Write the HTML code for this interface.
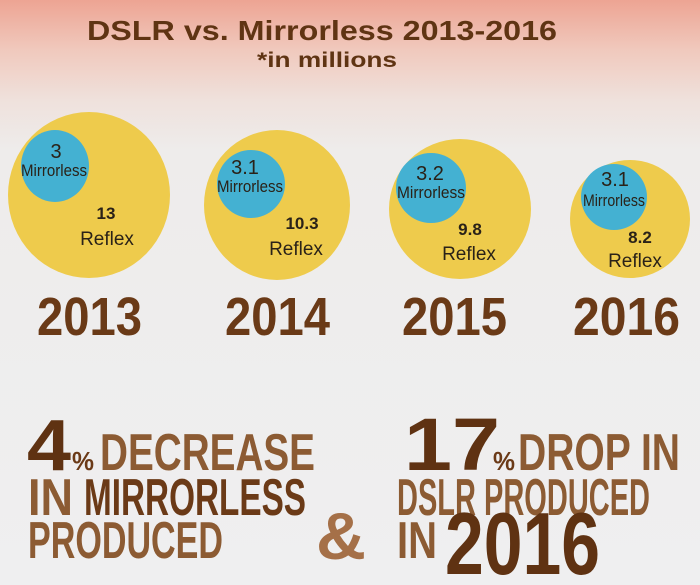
<!DOCTYPE html>
<html><head><meta charset="utf-8"><style>
html,body{margin:0;padding:0;width:700px;height:585px;overflow:hidden}
body{background:linear-gradient(#eda493 0px,#f0c9bd 50px,#efe1dc 100px,#eeeceb 150px,#efeff0 585px)}
svg{display:block}
text{font-family:"Liberation Sans",sans-serif}
</style></head><body>
<svg width="700" height="585" viewBox="0 0 700 585">
<g font-weight="bold" fill="#5f3413" text-anchor="middle">
<text x="322" y="40" font-size="28" textLength="470" lengthAdjust="spacingAndGlyphs">DSLR vs. Mirrorless 2013-2016</text>
<text x="327" y="67" font-size="21" textLength="140" lengthAdjust="spacingAndGlyphs">*in millions</text>
</g>
<g fill="#eecb4c">
<ellipse cx="89" cy="195" rx="81" ry="83"/>
<ellipse cx="277" cy="205" rx="73" ry="75"/>
<ellipse cx="460" cy="209" rx="71" ry="70"/>
<ellipse cx="630" cy="219" rx="60" ry="59"/>
</g>
<g fill="#44b1d2">
<ellipse cx="55" cy="166" rx="34" ry="36"/>
<circle cx="251" cy="184" r="34"/>
<circle cx="431" cy="188" r="35"/>
<circle cx="614" cy="197" r="33"/>
</g>
<g fill="#2a2218" text-anchor="middle" font-size="17">
<text x="56" y="158" font-size="20">3</text>
<text x="54" y="176" textLength="66" lengthAdjust="spacingAndGlyphs">Mirrorless</text>
<text x="106" y="219" font-weight="bold">13</text>
<text x="107" y="245" font-size="19">Reflex</text>
<text x="245" y="174" font-size="20">3.1</text>
<text x="250" y="192" textLength="66" lengthAdjust="spacingAndGlyphs">Mirrorless</text>
<text x="302" y="229" font-weight="bold">10.3</text>
<text x="296" y="255" font-size="19">Reflex</text>
<text x="430" y="180" font-size="20">3.2</text>
<text x="431" y="198" textLength="68" lengthAdjust="spacingAndGlyphs">Mirrorless</text>
<text x="470" y="235" font-weight="bold">9.8</text>
<text x="469" y="260" font-size="19">Reflex</text>
<text x="615" y="186" font-size="20">3.1</text>
<text x="614" y="206" textLength="62" lengthAdjust="spacingAndGlyphs">Mirrorless</text>
<text x="640" y="243" font-weight="bold">8.2</text>
<text x="635" y="267" font-size="19">Reflex</text>
</g>
<g fill="#6a3a17" font-size="54" font-weight="bold">
<text x="37" y="335" textLength="105" lengthAdjust="spacingAndGlyphs">2013</text>
<text x="225" y="335" textLength="105" lengthAdjust="spacingAndGlyphs">2014</text>
<text x="402" y="335" textLength="105" lengthAdjust="spacingAndGlyphs">2015</text>
<text x="573" y="335" textLength="107" lengthAdjust="spacingAndGlyphs">2016</text>
</g>
<g font-weight="bold">
<text x="27" y="470" font-size="72" fill="#5f3212" textLength="44" lengthAdjust="spacingAndGlyphs">4</text>
<text x="72" y="470" font-size="26" fill="#6b3a17" textLength="22" lengthAdjust="spacingAndGlyphs">%</text>
<text x="100" y="470" font-size="52" fill="#8c5b33" textLength="215" lengthAdjust="spacingAndGlyphs">DECREASE</text>
<text x="28" y="515" font-size="52" fill="#8c5b33" textLength="45" lengthAdjust="spacingAndGlyphs">IN</text>
<text x="84" y="515" font-size="52" fill="#6b3a17" textLength="222" lengthAdjust="spacingAndGlyphs">MIRRORLESS</text>
<text x="28" y="558" font-size="52" fill="#8c5b33" textLength="195" lengthAdjust="spacingAndGlyphs">PRODUCED</text>
<text x="316" y="559" font-size="66" fill="#a57048" textLength="50" lengthAdjust="spacingAndGlyphs">&amp;</text>
<text x="404" y="470" font-size="74" fill="#5f3212" textLength="96" lengthAdjust="spacingAndGlyphs">17</text>
<text x="493" y="470" font-size="26" fill="#6b3a17" textLength="22" lengthAdjust="spacingAndGlyphs">%</text>
<text x="518" y="470" font-size="52" fill="#8c5b33" textLength="162" lengthAdjust="spacingAndGlyphs">DROP IN</text>
<text x="397" y="515" font-size="52" fill="#8c5b33" textLength="253" lengthAdjust="spacingAndGlyphs">DSLR PRODUCED</text>
<text x="397" y="558" font-size="52" fill="#8c5b33" textLength="40" lengthAdjust="spacingAndGlyphs">IN</text>
<text x="445" y="574" font-size="88" fill="#5f3212" textLength="155" lengthAdjust="spacingAndGlyphs">2016</text>
</g>
</svg>
</body></html>
